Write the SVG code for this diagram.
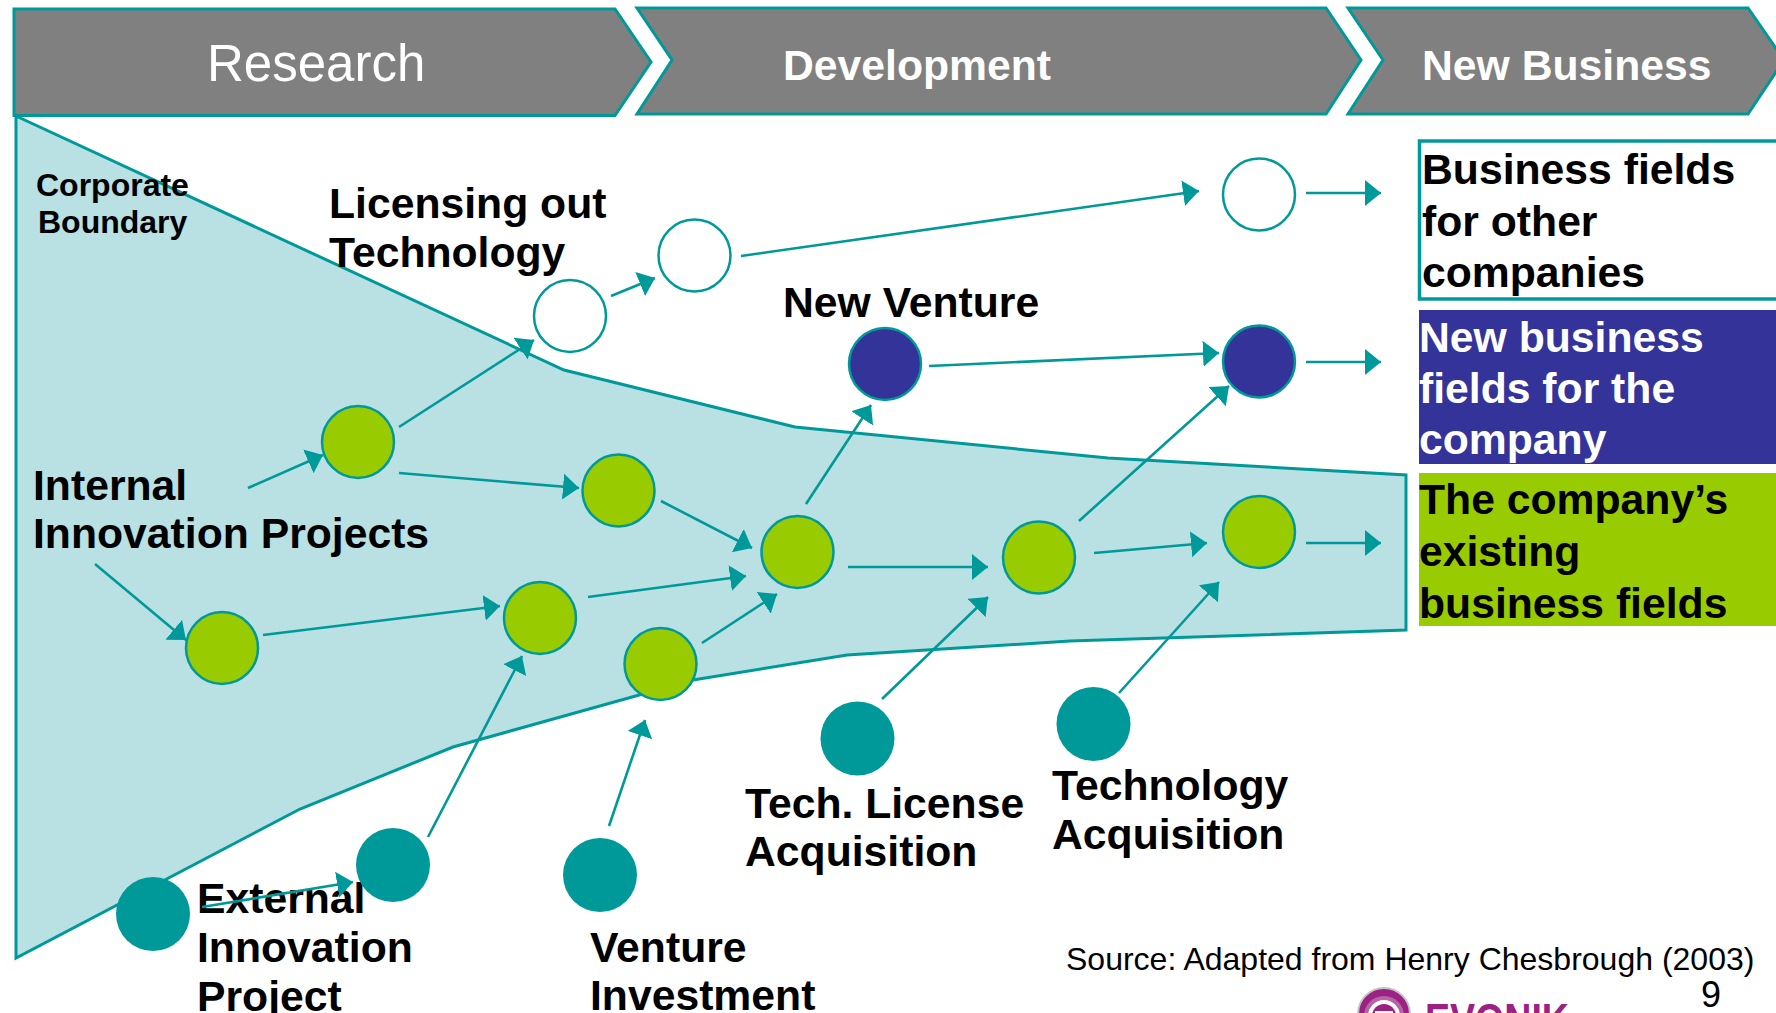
<svg xmlns="http://www.w3.org/2000/svg" width="1776" height="1013" viewBox="0 0 1776 1013">
<defs>
<style>
text{font-family:"Liberation Sans",Arial,sans-serif;fill:#000}
.b{font-weight:700;font-size:42.700px}
.w{fill:#fff}
.chev{fill:#808080;stroke:#009999;stroke-width:3}
.funnel{fill:#b9e0e3;stroke:#009999;stroke-width:3}
.conn line{stroke:#009999;stroke-width:2.6;marker-end:url(#ah)}
.nw{fill:#fff;stroke:#009999;stroke-width:2.5}
.nb{fill:#333399;stroke:#009999;stroke-width:2.5}
.ng{fill:#99cc00;stroke:#009999;stroke-width:2.5}
.nt{fill:#009999}
</style>
<marker id="ah" markerUnits="userSpaceOnUse" markerWidth="18" markerHeight="28" refX="16" refY="13" orient="auto"><path d="M0 0L16 13L0 26Z" fill="#009999"/></marker>
</defs>
<rect width="1776" height="1013" fill="#fff"/>
<g id="funnel"><path class="funnel" d="M16 116L564 370L795 427L1108 458L1406 475L1406 630L1070 641L847 655L693 680L453 747L300 809L16 958Z"/></g>
<g id="stage-research"><path class="chev" d="M14 9H615L651 62L615 115.500H14Z"/><text x="207" y="81" class="w" font-size="51">Research</text></g>
<g id="stage-development"><path class="chev" d="M637 8H1326L1361 60L1326 114H637L672 60Z"/><text x="783" y="80" class="b w">Development</text></g>
<g id="stage-new-business"><path class="chev" d="M1348 8H1748L1784 60L1748 114H1348L1383 60Z"/><text x="1422" y="80" class="b w">New Business</text></g>
<g id="box-other"><rect x="1419.500" y="141" width="380" height="158" fill="#fff" stroke="#009999" stroke-width="3.500"/><text class="b" x="1422" y="184">Business fields</text><text class="b" x="1422" y="236">for other</text><text class="b" x="1422" y="287">companies</text></g>
<g id="box-new"><rect x="1419" y="310" width="357" height="154" fill="#333399"/><text class="b w" x="1419" y="352">New business</text><text class="b w" x="1419" y="403">fields for the</text><text class="b w" x="1419" y="454">company</text></g>
<g id="box-existing"><rect x="1419" y="473" width="357" height="153" fill="#99cc00"/><text class="b" x="1419" y="514">The company’s</text><text class="b" x="1419" y="566">existing</text><text class="b" x="1419" y="618">business fields</text></g>
<g id="labels">
<text x="36" y="196" font-size="32" font-weight="700">Corporate</text><text x="38" y="233" font-size="32" font-weight="700">Boundary</text>
<text class="b" x="329" y="218">Licensing out</text><text class="b" x="329" y="267">Technology</text>
<text class="b" x="783" y="317">New Venture</text>
<text class="b" x="33" y="500">Internal</text><text class="b" x="33" y="548">Innovation Projects</text>
<text class="b" x="745" y="818">Tech. License</text><text class="b" x="745" y="866">Acquisition</text>
<text class="b" x="1052" y="800">Technology</text><text class="b" x="1052" y="849">Acquisition</text>
<text class="b" x="197" y="913">External</text><text class="b" x="197" y="962">Innovation</text><text class="b" x="197" y="1011">Project</text>
<text class="b" x="590" y="962">Venture</text><text class="b" x="590" y="1010">Investment</text>
<text x="1066" y="970" font-size="32">Source: Adapted from Henry Chesbrough (2003)</text>
<text x="1701" y="1007" font-size="36">9</text>
</g>
<g id="connectors" class="conn">
<line x1="248" y1="488" x2="323" y2="455"/>
<line x1="399" y1="427" x2="534" y2="340"/>
<line x1="399" y1="473" x2="579" y2="488"/>
<line x1="263" y1="635" x2="500" y2="606"/>
<line x1="95" y1="564" x2="186" y2="640"/>
<line x1="588" y1="597" x2="746" y2="576"/>
<line x1="661" y1="501" x2="752" y2="548"/>
<line x1="702" y1="643" x2="777" y2="594"/>
<line x1="806" y1="504" x2="871" y2="405"/>
<line x1="848" y1="567" x2="988" y2="567"/>
<line x1="929" y1="366" x2="1219" y2="353"/>
<line x1="741" y1="256" x2="1199" y2="191"/>
<line x1="611" y1="296" x2="655" y2="278"/>
<line x1="1306" y1="193" x2="1381" y2="193"/>
<line x1="1306" y1="362" x2="1381" y2="362"/>
<line x1="1306" y1="543" x2="1381" y2="543"/>
<line x1="1094" y1="553" x2="1207" y2="543"/>
<line x1="1079" y1="521" x2="1229" y2="386"/>
<line x1="882" y1="699" x2="988" y2="597"/>
<line x1="1119" y1="693" x2="1219" y2="582"/>
<line x1="428" y1="837" x2="522" y2="656"/>
<line x1="609" y1="826" x2="645" y2="720"/>
<line x1="202" y1="907" x2="353" y2="882"/>
</g>
<g id="n-out-1"><circle class="nw" cx="570" cy="316" r="36"/></g>
<g id="n-out-2"><circle class="nw" cx="694.500" cy="255.500" r="36"/></g>
<g id="n-out-3"><circle class="nw" cx="1259" cy="194.500" r="36"/></g>
<g id="n-venture-1"><circle class="nb" cx="885" cy="364" r="36"/></g>
<g id="n-venture-2"><circle class="nb" cx="1259" cy="361.500" r="36"/></g>
<g id="n-int-1"><circle class="ng" cx="358" cy="442" r="36"/></g>
<g id="n-int-2"><circle class="ng" cx="618.500" cy="490.500" r="36"/></g>
<g id="n-int-3"><circle class="ng" cx="797.500" cy="552" r="36"/></g>
<g id="n-int-4"><circle class="ng" cx="1039" cy="557.500" r="36"/></g>
<g id="n-int-5"><circle class="ng" cx="1259" cy="532" r="36"/></g>
<g id="n-int-6"><circle class="ng" cx="222" cy="648" r="36"/></g>
<g id="n-int-7"><circle class="ng" cx="540" cy="618" r="36"/></g>
<g id="n-int-8"><circle class="ng" cx="660.500" cy="664" r="36"/></g>
<g id="n-ext-1"><circle class="nt" cx="153" cy="914" r="37"/></g>
<g id="n-ext-2"><circle class="nt" cx="393" cy="865" r="37"/></g>
<g id="n-ext-3"><circle class="nt" cx="600" cy="875" r="37"/></g>
<g id="n-ext-4"><circle class="nt" cx="857.500" cy="738.500" r="37"/></g>
<g id="n-ext-5"><circle class="nt" cx="1093.500" cy="724" r="37"/></g>
<g id="logo"><circle cx="1384" cy="1014" r="26" fill="#9b2185" stroke="#c4c4c4" stroke-width="2"/><circle cx="1384" cy="1016" r="20" fill="#b565a5"/><circle cx="1384" cy="1016" r="16" fill="#fff"/><circle cx="1384" cy="1016" r="12" fill="#9b2185"/><rect x="1375" y="1011" width="18" height="2" fill="#fff"/><text x="1425" y="1036" font-size="46" font-weight="700" style="fill:#9b2185" textLength="144" lengthAdjust="spacingAndGlyphs">EVONIK</text></g>
</svg>
